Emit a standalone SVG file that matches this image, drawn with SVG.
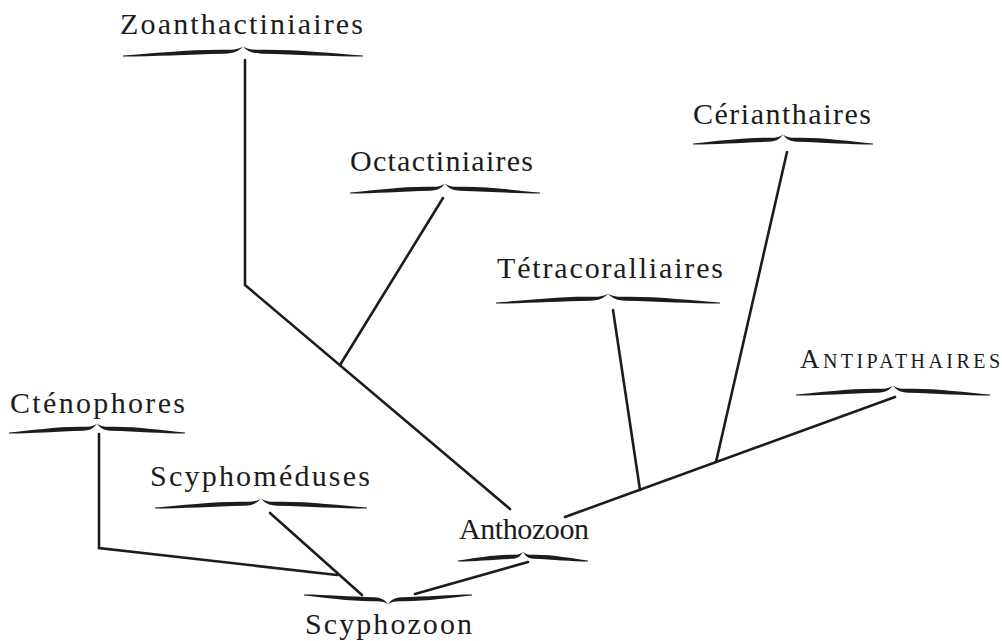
<svg xmlns="http://www.w3.org/2000/svg" xmlns:xlink="http://www.w3.org/1999/xlink" width="1002" height="641" viewBox="0 0 1002 641">
<style>
.lbl{font-family:"Liberation Serif","DejaVu Serif",serif;font-size:30px;fill:#1c1c1c}
.br{fill:#1c1c1c}
.ln{fill:none;stroke:#1c1c1c;stroke-width:2.6;stroke-linecap:round;stroke-linejoin:miter}
</style>
<defs>
<path id="brace" d="M-100,3.5 C-75,1.5 -45,-2.5 -16,-2.2 C-8,-2 -3,-3 0,-5.5 C-3,-1.5 -7,1.5 -16,1.8 C-45,2.5 -75,4.5 -100,4.6 Z M100,3.5 C75,1.5 45,-2.5 16,-2.2 C8,-2 3,-3 0,-5.5 C3,-1.5 7,1.5 16,1.8 C45,2.5 75,4.5 100,4.6 Z"/>
</defs>
<rect width="1002" height="641" fill="#ffffff"/>
<g id="connectors">
<polyline class="ln" points="245,60 245,285 510,509"/>
<line class="ln" x1="443" y1="198" x2="340" y2="365"/>
<line class="ln" x1="787" y1="152" x2="716" y2="462"/>
<line class="ln" x1="613" y1="310" x2="640" y2="490"/>
<line class="ln" x1="895" y1="397" x2="565" y2="517"/>
<polyline class="ln" points="99,434 99,548 337,575"/>
<line class="ln" x1="270" y1="513" x2="362" y2="595"/>
<line class="ln" x1="415" y1="594" x2="528" y2="562"/>
</g>
<g id="zoanthactiniaires">
<text class="lbl" x="120" y="34" textLength="243" lengthAdjust="spacing">Zoanthactiniaires</text>
<use xlink:href="#brace" class="br" transform="translate(243,52) scale(1.2,1)"/>
</g>
<g id="octactiniaires">
<text class="lbl" x="350" y="171" textLength="183" lengthAdjust="spacing">Octactiniaires</text>
<use xlink:href="#brace" class="br" transform="translate(445,189) scale(0.95,1)"/>
</g>
<g id="cerianthaires">
<text class="lbl" x="693" y="124" textLength="178" lengthAdjust="spacing">Cérianthaires</text>
<use xlink:href="#brace" class="br" transform="translate(783,140) scale(0.9,1)"/>
</g>
<g id="tetracoralliaires">
<text class="lbl" x="497" y="278" textLength="226" lengthAdjust="spacing">Tétracoralliaires</text>
<use xlink:href="#brace" class="br" transform="translate(608,299) scale(1.12,1)"/>
</g>
<g id="antipathaires">
<text class="lbl" x="800" y="368" textLength="200" lengthAdjust="spacing"><tspan font-size="27">A</tspan><tspan font-size="20">NTIPATHAIRES</tspan></text>
<use xlink:href="#brace" class="br" transform="translate(893,391) scale(0.97,1)"/>
</g>
<g id="ctenophores">
<text class="lbl" x="10" y="413" textLength="175" lengthAdjust="spacing">Cténophores</text>
<use xlink:href="#brace" class="br" transform="translate(97,429) scale(0.88,1)"/>
</g>
<g id="scyphomeduses">
<text class="lbl" x="150" y="486" textLength="220" lengthAdjust="spacing">Scyphoméduses</text>
<use xlink:href="#brace" class="br" transform="translate(261,504) scale(1.06,1)"/>
</g>
<g id="anthozoon">
<text class="lbl" x="459" y="539" textLength="130" lengthAdjust="spacing">Anthozoon</text>
<use xlink:href="#brace" class="br" transform="translate(523,557) scale(0.65,1)"/>
</g>
<g id="scyphozoon">
<text class="lbl" x="305" y="634" textLength="167" lengthAdjust="spacing">Scyphozoon</text>
<use xlink:href="#brace" class="br" transform="translate(388,599) scale(0.84,-1)"/>
</g>
</svg>
